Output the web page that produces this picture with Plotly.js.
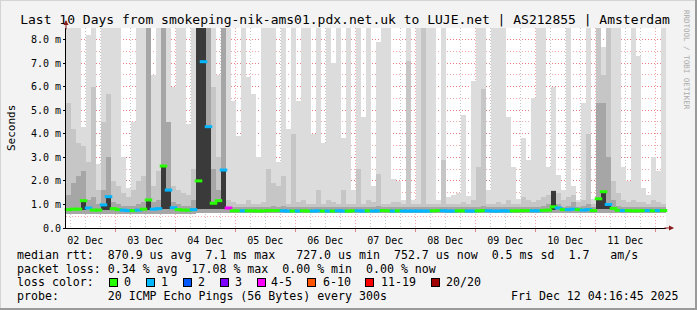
<!DOCTYPE html>
<html>
<head>
<meta charset="utf-8">
<script src="https://cdn.plot.ly/plotly-3.0.1.min.js"></script>
<style>
html,body{margin:0;padding:0;background:#f3f3f3;}
#chart{width:697px;height:310px;}
</style>
</head>
<body>
<div id="chart"></div>
<script>
// ---- data (one column = 2 hours, 120 columns over 10 days) ----
const startTime = Date.UTC(2025, 11, 2, 4, 16, 45);
const stepMs = 2 * 3600 * 1000;

// lowest ping (ms)
const pingMin = [
0.60,0.60,0.60,0.60,0.60,0.60,0.60,0.60,0.60,0.60,0.60,0.60,0.60,0.60,0.60,0.60,0.60,0.60,0.60,0.60,0.60,0.60,0.60,0.60,0.60,0.60,0.62,0.62,0.62,0.62,
0.62,0.62,0.62,0.62,0.62,0.62,0.62,0.62,0.62,0.62,0.62,0.62,0.62,0.62,0.62,0.62,0.62,0.62,0.62,0.62,0.62,0.62,0.62,0.62,0.62,0.62,0.62,0.62,0.62,0.62,
0.62,0.62,0.62,0.62,0.62,0.62,0.62,0.62,0.62,0.62,0.62,0.62,0.62,0.62,0.62,0.62,0.62,0.62,0.62,0.62,0.62,0.62,0.62,0.62,0.62,0.62,0.62,0.62,0.62,0.62,
0.62,0.62,0.62,0.62,0.62,0.62,0.62,0.63,0.62,0.62,0.62,0.62,0.62,0.62,0.62,0.62,0.64,0.64,0.63,0.62,0.62,0.62,0.62,0.62,0.62,0.62,0.62,0.62,0.62,0.62
];
// highest ping (ms) - light smoke top
const pingMax = [
8.5,8.5,8.5,4.3,8.2,8.5,2.7,8.5,8.5,8.5, 8.5,3.0,1.7,4.5,8.5,8.5,8.5,6.5,8.5,8.5, 8.5,6.0,8.5,8.5,4.4,8.5,8.5,8.5,8.5,8.5,
6.5,8.5,8.5,5.4,3.9,8.5,6.4,5.7,3.0,8.5, 8.5,8.5,2.8,8.5,4.2,8.5,5.4,8.5,8.5,4.0, 8.5,3.6,8.5,7.0,8.5,3.8,8.5,1.6,8.5,4.7,
8.5,1.8,7.9,8.5,8.5,2.1,2.0,1.2,8.5,1.2, 8.5,8.5,8.5,8.5,1.2,8.5,1.3,1.4,1.5,4.8, 1.37,6.25,8.5,8.5,1.6,8.5,8.5,8.5,4.7,2.6,
1.25,3.8,2.9,5.5,8.5,8.5,2.6,6.0,2.26,1.6, 8.5,1.8,1.2,5.3,8.5,1.25,8.5,7.7,8.5,8.5, 8.5,2.6,2.0,8.5,7.3,1.7,1.4,3.0,2.4,8.5
];
// upper band (ms) - medium smoke top
const pingUpper = [
5.3,4.2,3.6,3.5,2.8,6.0,1.6,4.5,5.7,2.0, 1.8,1.5,1.3,1.6,2.0,2.2,3.5,1.8,2.4,4.5, 3.0,1.8,1.6,1.5,1.4,2.5,8.5,8.5,8.5,6.0,
3.0,8.5,1.2,1.1,1.0,1.0,1.2,1.0,1.0,1.1, 2.5,1.9,1.8,2.2,1.0,4.0,1.1,1.2,1.0,1.0, 1.6,1.0,1.2,1.1,1.0,1.6,1.0,1.0,2.5,1.0,
1.2,1.1,2.3,1.0,1.0,1.1,1.1,1.0,7.1,1.0, 1.0,8.5,1.0,1.0,1.0,2.9,1.0,1.0,1.0,1.1, 1.0,1.2,2.6,5.9,1.0,1.0,1.1,1.0,1.2,1.0,
1.0,1.3,1.2,1.1,1.2,1.3,1.4,1.6,1.5,1.2, 1.3,1.4,1.1,1.2,4.0,1.0,8.5,6.5,8.5,2.0, 1.5,1.2,1.1,1.2,1.1,1.1,1.0,1.2,1.1,1.0
];
// inner band (ms) - darker smoke top
const pingInner = [
1.4,1.9,2.2,2.4,1.2,1.3,1.0,1.6,3.0,1.1, 1.0,0.95,0.92,0.95,1.0,1.1,8.5,1.1,1.2,8.5, 4.5,1.1,1.0,0.95,0.95,1.2,8.5,8.5,8.5,2.5,
1.6,8.5,0.9,0.88,0.88,0.88,0.88,0.88,0.88,0.9, 0.9,0.95,0.9,0.95,0.88,0.9,0.88,0.9,0.88,0.88, 0.9,0.88,0.9,0.88,0.88,0.9,0.88,0.88,0.9,0.88,
0.9,0.88,0.95,0.88,0.88,0.88,0.9,0.88,0.9,0.88, 0.88,0.9,0.88,0.88,0.88,0.9,0.88,0.88,0.88,0.88, 0.88,0.9,0.9,0.95,0.88,0.88,0.88,0.88,0.9,0.88,
0.88,0.9,0.9,0.88,0.9,0.95,1.0,1.3,1.0,0.9, 0.95,1.1,0.9,0.95,1.0,0.88,5.3,5.3,3.0,1.2, 0.95,0.9,0.9,0.88,0.88,0.88,0.88,0.9,0.88,0.88
];
// dense core of the smoke (only where it stands out)
const coreCols = [3, 7, 8, 16, 19, 20, 26, 27, 28, 29, 30, 31, 97, 106, 107, 108];
const coreLow  = [0.78,0.78,0.78,0.78,0.80,0.80,0.80,0.80,0.80,0.80,0.80,0.80,0.78,0.80,0.80,0.80];
const coreHigh = [1.16,0.98,1.33,1.19,2.63,1.61,8.5,8.5,4.3,1.05,1.16,2.46,1.55,1.24,1.54,1.0];
// median rtt (ms)
const medianRtt = [
0.78,0.80,0.80,1.16,0.85,0.76,0.76,0.98,1.33,0.82, 0.78,0.76,0.74,0.74,0.76,0.80,1.19,0.80,0.82,2.63, 1.61,0.86,0.78,0.76,0.76,0.78,2.0,7.06,4.3,1.05,
1.16,2.46,0.85,0.73,0.73,0.73,0.73,0.73,0.72,0.73, 0.74,0.74,0.74,0.73,0.72,0.72,0.72,0.73,0.72,0.72, 0.73,0.72,0.72,0.72,0.73,0.72,0.72,0.73,0.73,0.72,
0.73,0.72,0.73,0.74,0.73,0.72,0.73,0.72,0.72,0.72, 0.72,0.72,0.72,0.73,0.74,0.73,0.72,0.72,0.73,0.73, 0.72,0.72,0.73,0.74,0.73,0.72,0.72,0.73,0.72,0.73,
0.73,0.74,0.74,0.73,0.73,0.75,0.76,0.90,0.85,0.78, 0.78,0.80,0.78,0.76,0.78,0.74,1.24,1.54,1.0,0.83, 0.75,0.74,0.74,0.73,0.73,0.74,0.74,0.73,0.74,0.74
];
// loss bucket index per column (into lossLabels)
const lossBucket = [
0,0,0,0,1,0,0,1,1,0, 0,1,1,0,1,0,0,1,1,0, 1,1,0,0,0,1,0,1,1,0,
0,1,4,0,0,1,0,0,0,0, 0,0,0,1,1,0,1,0,0,1, 1,0,1,0,1,1,0,0,1,1,
0,1,1,0,0,1,0,1,1,1, 1,1,1,0,0,1,1,1,0,0, 1,1,0,0,1,1,1,1,1,0,
0,0,0,1,1,0,0,0,1,0, 1,1,0,1,1,0,0,0,1,0, 0,1,0,0,0,0,1,0,1,0
];
const lossLabels = ['0', '1', '2', '3', '4-5', '6-10', '11-19', '20/20'];
const lossColors = ['#26ff00', '#00b8ff', '#0059ff', '#7e00ff', '#ff00ff', '#ff5500', '#ff0000', '#a10000'];
const yTickVals = [0, 1, 2, 3, 4, 5, 6, 7, 8];
const yTickText = ['0.0', '1.0 m', '2.0 m', '3.0 m', '4.0 m', '5.0 m', '6.0 m', '7.0 m', '8.0 m'];
const titleText = 'Last 10 Days from smokeping-nik-ams01.pdx.net.uk to LUJE.net | AS212855 | Amsterdam';
const statsRtt  = 'median rtt:  870.9 us avg  7.1 ms max   727.0 us min  752.7 us now  0.5 ms sd  1.7   am/s';
const statsLoss = 'packet loss: 0.34 % avg  17.08 % max  0.00 % min  0.00 % now';
const probeText = 'probe:       20 ICMP Echo Pings (56 Bytes) every 300s';
const stampText = 'Fri Dec 12 04:16:45 2025';

// ---- build ----
const endTime = startTime + 10 * 24 * 3600 * 1000;
const times = pingMax.map((_, i) => startTime + (i + 0.5) * stepMs);
const FONT = 'DejaVu Sans Mono';
const nb = s => s.replace(/ /g, '\u00a0');

function band(top, color) {
  return {
    type: 'bar', x: times, base: pingMin,
    y: top.map((v, i) => v - pingMin[i]),
    width: stepMs, marker: {color: color, line: {width: 0}},
    opacity: 1, hoverinfo: 'skip'
  };
}
const traces = [
  band(pingMax, '#dcdcdc'),
  band(pingUpper, '#c6c6c6'),
  band(pingInner, '#a6a6a6'),
  {
    type: 'bar', x: coreCols.map(i => times[i]), base: coreLow,
    y: coreHigh.map((v, j) => v - coreLow[j]),
    width: stepMs, marker: {color: '#3a3a3a', line: {width: 0}},
    opacity: 1, hoverinfo: 'skip'
  },
  {
    type: 'scatter', mode: 'markers', x: times, y: medianRtt,
    marker: {symbol: 'line-ew', size: 5.4,
             line: {width: 3, color: lossBucket.map(b => lossColors[b])}},
    hoverinfo: 'skip', cliponaxis: false
  }
];

// pixel helpers for layout decorations (plot area 66..666 x 28..228)
const PX = px => (px - 66) / 600;
const PY = py => (228 - py) / 200;

const ann = [];
function txt(s, px, py, opts) {
  ann.push(Object.assign({
    text: nb(s), xref: 'paper', yref: 'paper', x: PX(px), y: PY(py),
    xanchor: 'left', yanchor: 'middle', showarrow: false,
    font: {family: FONT, size: 11.6, color: '#000'}, borderpad: 0
  }, opts || {}));
}
txt(statsRtt, 16, 254.5);
txt(statsLoss, 16, 268.5);
txt('loss color:', 16, 282);
txt(probeText, 16, 296);
txt(stampText, 680, 296, {xanchor: 'right'});
txt('Seconds', 11, 128, {xanchor: 'center', textangle: -90, font: {family: FONT, size: 11, color: '#000'}});
txt('RRDTOOL / TOBI OETIKER', 687, 60, {xanchor: 'center', textangle: 90, font: {family: FONT, size: 7.5, color: '#aaaaaa'}});

const boxX = [108.5, 145.5, 182.5, 219.5, 256.5, 307, 365, 431];
const labX = [122.5, 160, 196.5, 233.5, 270, 321.5, 380, 445];
lossLabels.forEach((lab, i) => {
  ann.push({
    text: '\u00a0', xref: 'paper', yref: 'paper', x: PX(boxX[i]), y: PY(282),
    xanchor: 'left', yanchor: 'middle', showarrow: false, width: 7, height: 7,
    bgcolor: lossColors[i], bordercolor: '#000', borderwidth: 1, borderpad: 0,
    font: {size: 1}
  });
  txt(lab, labX[i], 282);
});
// axis arrows
ann.push({text: '', xref: 'paper', yref: 'paper', x: PX(674), y: 0, ax: -11, ay: 0,
          showarrow: true, arrowhead: 2, arrowsize: 1, arrowwidth: 1, arrowcolor: '#8b1a1a'});
ann.push({text: '', xref: 'paper', yref: 'paper', x: 0, y: PY(20), ax: 0, ay: 11,
          showarrow: true, arrowhead: 2, arrowsize: 1, arrowwidth: 1, arrowcolor: '#8b1a1a'});

const shapes = [
  {type: 'line', xref: 'paper', yref: 'paper', x0: PX(0), x1: PX(697), y0: PY(0.5), y1: PY(0.5), line: {color: '#d4d4d4', width: 1}},
  {type: 'line', xref: 'paper', yref: 'paper', x0: PX(0.5), x1: PX(0.5), y0: PY(0), y1: PY(310), line: {color: '#d4d4d4', width: 1}},
  {type: 'line', xref: 'paper', yref: 'paper', x0: PX(0), x1: PX(697), y0: PY(309), y1: PY(309), line: {color: '#9a9a9a', width: 2}},
  {type: 'line', xref: 'paper', yref: 'paper', x0: PX(696), x1: PX(696), y0: PY(0), y1: PY(310), line: {color: '#9a9a9a', width: 2}}
];

const layout = {
  width: 697, height: 310,
  margin: {l: 66, r: 31, t: 28, b: 82, pad: 0},
  paper_bgcolor: '#f3f3f3', plot_bgcolor: '#ffffff',
  barmode: 'overlay', bargap: 0, showlegend: false,
  title: {text: titleText, font: {family: FONT, size: 13, color: '#000'},
          x: 345 / 697, xanchor: 'center', y: 1 - 19 / 310, yanchor: 'middle'},
  xaxis: {
    type: 'date', range: [startTime, endTime], fixedrange: true,
    tickmode: 'linear', tick0: '2025-12-02', dtick: 86400000,
    ticklabelmode: 'period', tickformat: '%d %b',
    tickfont: {family: FONT, size: 10, color: '#000'},
    ticks: 'outside', ticklen: 3, tickcolor: 'rgba(200,60,60,0.6)',
    showgrid: true, gridcolor: 'rgba(225,80,80,0.5)', griddash: '1px,2px', gridwidth: 1,
    minor: {tickmode: 'linear', tick0: '2025-12-02', dtick: 21600000, showgrid: true,
            gridcolor: 'rgba(150,150,150,0.55)', griddash: '1px,2px', gridwidth: 1},
    showline: true, linecolor: '#000', linewidth: 1, zeroline: false, layer: 'above traces'
  },
  yaxis: {
    range: [0, 8.49], fixedrange: true,
    tickmode: 'array', tickvals: yTickVals, ticktext: yTickText,
    tickfont: {family: FONT, size: 10, color: '#000'},
    ticks: 'outside', ticklen: 2, tickcolor: '#000',
    showgrid: true, gridcolor: 'rgba(225,80,80,0.5)', griddash: '1px,2px', gridwidth: 1,
    minor: {tickmode: 'linear', tick0: 0, dtick: 0.5, showgrid: true,
            gridcolor: 'rgba(225,80,80,0.5)', griddash: '1px,2px', gridwidth: 1},
    showline: true, linecolor: '#000', linewidth: 1, zeroline: false, layer: 'above traces'
  },
  annotations: ann,
  shapes: shapes
};

Plotly.newPlot('chart', traces, layout, {displayModeBar: false, staticPlot: true});
</script>
</body>
</html>
